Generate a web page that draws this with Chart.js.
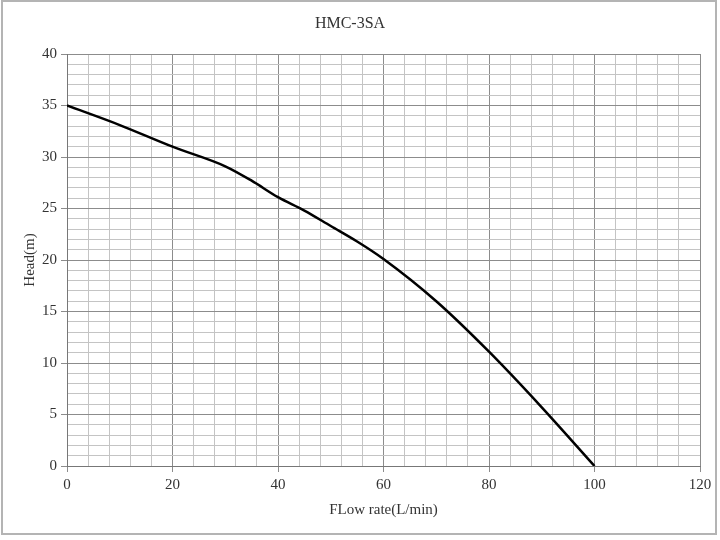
<!DOCTYPE html>
<html lang="en">
<head>
    <meta charset="UTF-8">
    <title>HMC-3SA</title>
    <style>
        body {
            margin: 0;
            background-color: #ffffff;
        }
        .frame {
            position: absolute;
            left: 1px;
            top: 0;
            width: 716px;
            height: 535px;
            border: 2px solid #b4b4b4;
            box-sizing: border-box;
        }
        canvas {
            position: absolute;
            left: 0;
            top: 0;
        }
    </style>
</head>
<body>
    <canvas id="pumpChart" width="720" height="540"></canvas>
    <div class="frame"></div>

    <script src="https://cdn.jsdelivr.net/npm/chart.js"></script>
    <script>
        // Pump curve
        const flowRate = [0, 10, 20, 30, 35, 40, 45, 50, 55, 60, 70, 80, 90, 100];
        const head = [35, 33.1, 31, 29.1, 27.7, 26.1, 24.8, 23.3, 21.8, 20.1, 16, 11.1, 5.7, 0];

        const xMajor = 20, yMajor = 5;
        const majorColor = '#8c8c8c';
        const minorColor = '#c4c4c4';
        const textColor = '#333';
        const font = "'Liberation Serif', serif";

        const ctx = document.getElementById('pumpChart').getContext('2d');
        new Chart(ctx, {
            type: 'line',
            data: {
                datasets: [{
                    label: 'HMC-3SA',
                    data: flowRate.map((x, i) => ({ x: x, y: head[i] })),
                    borderColor: '#000',
                    borderWidth: 2.5,
                    pointRadius: 0,
                    fill: false,
                    cubicInterpolationMode: 'monotone'
                }]
            },
            options: {
                responsive: false,
                animation: false,
                layout: {
                    padding: { left: 0, right: 20, top: 0, bottom: 0 }
                },
                plugins: {
                    legend: { display: false },
                    tooltip: { enabled: false },
                    title: {
                        display: true,
                        text: 'HMC-3SA',
                        color: textColor,
                        font: { family: font, size: 16, weight: 'normal' },
                        padding: { top: 14, bottom: 20.8 }
                    }
                },
                scales: {
                    x: {
                        type: 'linear',
                        min: 0,
                        max: 120,
                        afterFit: scale => { scale.height = 74; },
                        ticks: {
                            stepSize: 4,
                            autoSkip: false,
                            maxRotation: 0,
                            padding: 4,
                            color: textColor,
                            font: { family: font, size: 15 },
                            callback: v => (v % xMajor === 0 ? v : '')
                        },
                        grid: {
                            color: c => (c.tick && c.tick.value % xMajor === 0 ? majorColor : minorColor),
                            tickColor: c => (c.tick && c.tick.value % xMajor === 0 ? majorColor : 'rgba(0,0,0,0)'),
                            tickLength: 6
                        },
                        border: { color: '#777' },
                        title: {
                            display: true,
                            text: 'FLow rate(L/min)',
                            color: textColor,
                            font: { family: font, size: 15 },
                            padding: { top: 0, bottom: 21 }
                        }
                    },
                    y: {
                        min: 0,
                        max: 40,
                        afterFit: scale => { scale.width = 67; },
                        ticks: {
                            stepSize: 1,
                            autoSkip: false,
                            padding: 4,
                            color: textColor,
                            font: { family: font, size: 15 },
                            callback: v => (v % yMajor === 0 ? v : '')
                        },
                        grid: {
                            color: c => (c.tick && c.tick.value % yMajor === 0 ? majorColor : minorColor),
                            tickColor: c => (c.tick && c.tick.value % yMajor === 0 ? majorColor : 'rgba(0,0,0,0)'),
                            tickLength: 6
                        },
                        border: { color: '#777' },
                        title: {
                            display: true,
                            text: 'Head(m)',
                            color: textColor,
                            font: { family: font, size: 15 },
                            padding: { top: 21, bottom: 0 }
                        }
                    }
                }
            }
        });
    </script>
</body>
</html>
